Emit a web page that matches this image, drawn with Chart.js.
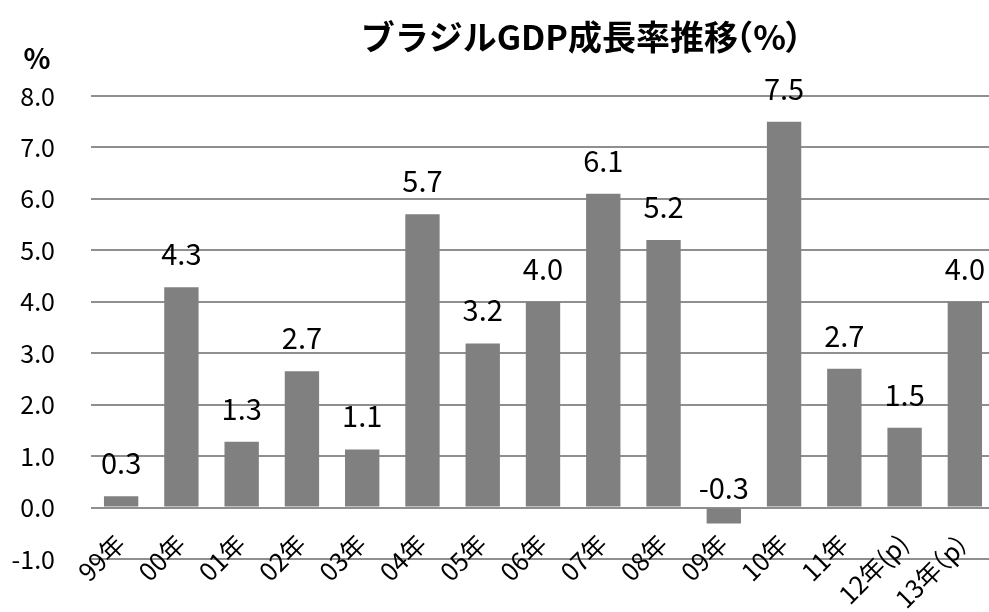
<!DOCTYPE html>
<html>
<head>
<meta charset="utf-8">
<script src="https://cdn.jsdelivr.net/npm/chart.js@4"></script>
<style>
html,body{margin:0;padding:0;background:#fff;overflow:hidden;width:989px;height:612px;}
canvas{display:block;}
</style>
</head>
<body>
<canvas id="c" width="995" height="612"></canvas>
<script>
const chartTitle = 'ブラジルGDP成長率推移（%）';
const unitLabel = '%';
const categories = ['99年','00年','01年','02年','03年','04年','05年','06年','07年','08年','09年','10年','11年','12年(p)','13年（p）'];
const values = [0.22, 4.28, 1.28, 2.65, 1.13, 5.7, 3.19, 4.0, 6.1, 5.2, -0.31, 7.5, 2.7, 1.55, 4.0];
const valueLabels = ['0.3','4.3','1.3','2.7','1.1','5.7','3.2','4.0','6.1','5.2','-0.3','7.5','2.7','1.5','4.0'];
const yMin = -1, yMax = 8, yStep = 1;

const JP = '"Noto Sans CJK JP", "Noto Sans", sans-serif';

// split text into runs, full-width parentheses drawn with a narrow advance
function runs(ctx, text, em) {
  const out = [];
  let buf = '';
  const flush = () => { if (buf) { out.push({ t: buf, dx: 0, adv: ctx.measureText(buf).width }); buf = ''; } };
  for (const ch of text) {
    if (ch === '（') { flush(); out.push({ t: ch, dx: -0.55 * em, adv: 0.45 * em }); }
    else if (ch === '）') { flush(); out.push({ t: ch, dx: -0.05 * em, adv: 0.45 * em }); }
    else buf += ch;
  }
  flush();
  return out;
}
function drawText(ctx, text, x, y, em, align) {
  const rs = runs(ctx, text, em);
  const total = rs.reduce((s, r) => s + r.adv, 0);
  let cx = align === 'center' ? x - total / 2 : align === 'right' ? x - total : x;
  ctx.textAlign = 'left';
  rs.forEach(r => { ctx.fillText(r.t, cx + r.dx, y); cx += r.adv; });
}

const overlay = {
  id: 'overlay',
  beforeDatasetsDraw(chart) {
    const ctx = chart.ctx;
    const meta = chart.getDatasetMeta(0);
    const zero = chart.scales.y.getPixelForValue(0);
    ctx.save();
    ctx.font = '29px ' + JP;
    meta.data.forEach((bar, i) => {
      if (values[i] < 0) {
        const y = zero - 9;
        const w = ctx.measureText(valueLabels[i]).width;
        ctx.fillStyle = '#ffffff';
        ctx.fillRect(bar.x - w / 2 - 40, y - 48, w + 80, 52);
      }
    });
    ctx.restore();
  },
  afterDatasetsDraw(chart) {
    const ctx = chart.ctx;
    const meta = chart.getDatasetMeta(0);
    const zero = chart.scales.y.getPixelForValue(0);
    ctx.save();
    ctx.font = '29px ' + JP;
    ctx.textAlign = 'center';
    ctx.textBaseline = 'alphabetic';
    ctx.fillStyle = '#000000';
    meta.data.forEach((bar, i) => {
      const y = values[i] >= 0 ? bar.y - 22 : zero - 9;
      ctx.fillText(valueLabels[i], bar.x, y);
    });
    ctx.restore();
  },
  afterDraw(chart) {
    const ctx = chart.ctx;
    const xScale = chart.scales.x;
    ctx.save();
    ctx.fillStyle = '#000';
    ctx.textBaseline = 'middle';
    // title
    ctx.font = 'bold 34px ' + JP;
    drawText(ctx, chartTitle, 581, 37, 34, 'center');
    // unit
    ctx.font = 'bold 28px ' + JP;
    ctx.textAlign = 'center';
    ctx.fillText(unitLabel, 37, 58);
    // x labels
    ctx.font = '25px ' + JP;
    categories.forEach((c, i) => {
      const x = xScale.getPixelForValue(i);
      ctx.save();
      ctx.translate(x - 1, 539);
      ctx.rotate(-Math.PI / 4);
      drawText(ctx, c, 0, 0, 25, 'right');
      ctx.restore();
    });
    ctx.restore();
  }
};

new Chart(document.getElementById('c'), {
  type: 'bar',
  data: {
    labels: categories,
    datasets: [{
      data: values,
      backgroundColor: '#808080',
      borderWidth: 0,
      barPercentage: 0.57,
      categoryPercentage: 1.0
    }]
  },
  options: {
    responsive: false,
    animation: false,
    devicePixelRatio: 1,
    layout: { padding: { top: 96, bottom: 53, left: 0, right: 0 } },
    plugins: { legend: { display: false }, tooltip: { enabled: false }, title: { display: false } },
    scales: {
      x: { display: false, grid: { display: false } },
      y: {
        min: yMin, max: yMax,
        afterFit: s => { s.width = 91; },
        border: { display: false },
        grid: { color: '#8f8f8f', lineWidth: 2, drawTicks: false },
        ticks: {
          stepSize: yStep,
          padding: 36,
          color: '#000',
          font: { family: JP, size: 25 },
          callback: v => Number(v).toFixed(1)
        }
      }
    }
  },
  plugins: [overlay]
});
</script>
</body>
</html>
